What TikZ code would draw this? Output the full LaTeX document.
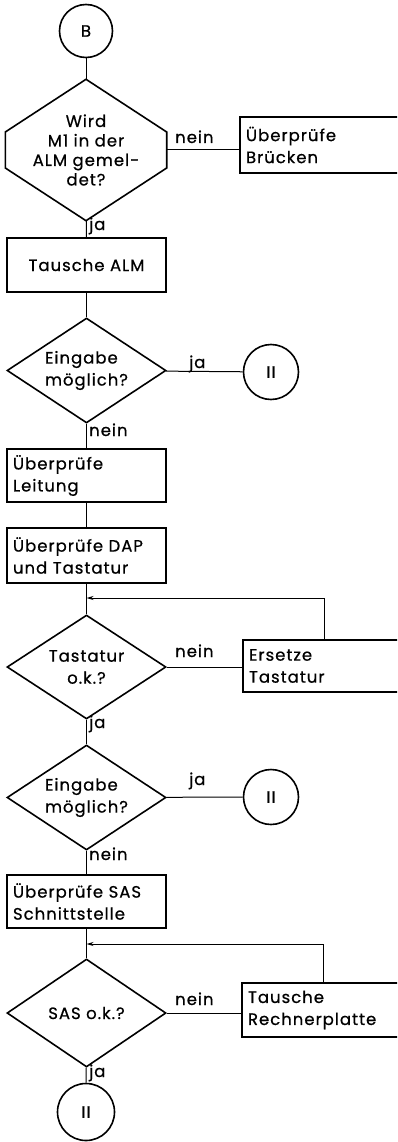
\documentclass[tikz,border=0pt]{standalone}
\usepackage{fontspec}
\setmainfont{Poppins}[LetterSpace=6, FakeBold=0.6]
\usetikzlibrary{arrows.meta, positioning, shapes.geometric, calc}

\begin{document}
\begin{tikzpicture}[x=1pt, y=-1pt, >={Stealth[length=7pt,width=4pt]},
    font=\fontsize{16.5}{22}\selectfont,
    box/.style={draw, line width=1.6pt, rectangle, minimum width=159pt, text width=147pt, inner xsep=6pt, align=left},
    rbox/.style={draw, line width=1.6pt, rectangle, minimum width=162pt, text width=150pt, inner xsep=6pt, align=left},
    dec/.style={draw, line width=1.6pt, diamond, aspect=1.5, minimum width=159pt, minimum height=105pt, inner sep=0pt, align=center},
    conn/.style={draw, line width=1.6pt, circle, minimum size=55pt, inner sep=0pt},
    lbl/.style={inner sep=0pt, anchor=base west},
    line/.style={line width=1pt}]
    \clip (0,0) rectangle (397,1142);

    \node[conn, minimum size=53pt] (b) at (86,31) {B};
    \node[minimum width=161pt, minimum height=141pt, inner sep=0pt, align=center, font=\fontsize{16.5}{19.5}\selectfont] (d1) at (86,150) {Wird\\M1 in der\\ALM gemel-\\det?};
    \draw[line width=1.6pt] (d1.north) -- ($(d1.west)+(0,-18)$) -- ($(d1.west)+(0,18)$) -- (d1.south)
        -- ($(d1.east)+(0,18)$) -- ($(d1.east)+(0,-18)$) -- cycle;
    \node[rbox, minimum height=56pt] (bru) at (321,145) {Überprüfe\\Brücken};
    \node[box, minimum height=54pt, align=center] (alm) at (86.5,265) {Tausche ALM};
    \node[dec, align=left] (d2) at (86.5,370.5) {Eingabe\\möglich?};
    \node[conn] (c1) at (271,372) {II};
    \node[box, minimum height=53pt] (lei) at (86.5,475.5) {Überprüfe\\Leitung};
    \node[box, minimum height=55pt] (dap) at (86.5,555.5) {Überprüfe DAP\\und Tastatur};
    \coordinate (j1) at (86.5,598);
    \node[dec, minimum height=104pt] (d3) at (86.5,667) {Tastatur\\o.k.?};
    \node[rbox, minimum height=52pt] (ers) at (324,666) {Ersetze\\Tastatur};
    \node[dec, align=left] (d4) at (86.5,797.5) {Eingabe\\möglich?};
    \node[conn] (c2) at (271,797) {II};
    \node[box, minimum height=53pt] (sas) at (86.5,901.5) {Überprüfe SAS\\Schnittstelle};
    \coordinate (j2) at (86.5,944);
    \node[dec, minimum height=108pt] (d5) at (86.5,1013) {SAS o.k.?};
    \node[rbox, minimum height=54pt] (rec) at (323,1010) {Tausche\\Rechnerplatte};
    \node[conn, minimum size=57pt] (c3) at (86,1112) {II};

    % Beschriftungen
    \node[lbl] (n1) at (175,143) {nein};
    \node[lbl] (y1) at (89,230) {ja};
    \node[lbl] (y2) at (189,368) {ja};
    \node[lbl] (n2) at (89,436) {nein};
    \node[lbl] (n3) at (175,657) {nein};
    \node[lbl] (y3) at (89,728) {ja};
    \node[lbl] (y4) at (189,785) {ja};
    \node[lbl] (n4) at (89,860) {nein};
    \node[lbl] (n5) at (175,1005) {nein};
    \node[lbl] (y5) at (89,1077) {ja};

    \draw[line] (b) -- (d1);
    \draw[line] (d1.east) -- (d1.east -| bru.west);
    \draw[line] (d1) -- (alm);
    \draw[line] (alm) -- (d2);
    \draw[line] (d2) -- (c1);
    \draw[line] (d2) -- (lei);
    \draw[line] (lei) -- (dap);
    \draw[line] (dap) -- (d3);
    \draw[line, ->] (ers.north) |- (j1);
    \draw[line] (d3) -- (d3 -| ers.west);
    \draw[line] (d3) -- (d4);
    \draw[line] (d4) -- (c2);
    \draw[line] (d4) -- (sas);
    \draw[line] (sas) -- (d5);
    \draw[line, ->] (rec.north) |- (j2);
    \draw[line] (d5) -- (d5 -| rec.west);
    \draw[line] (d5) -- (c3);
\end{tikzpicture}
\end{document}
